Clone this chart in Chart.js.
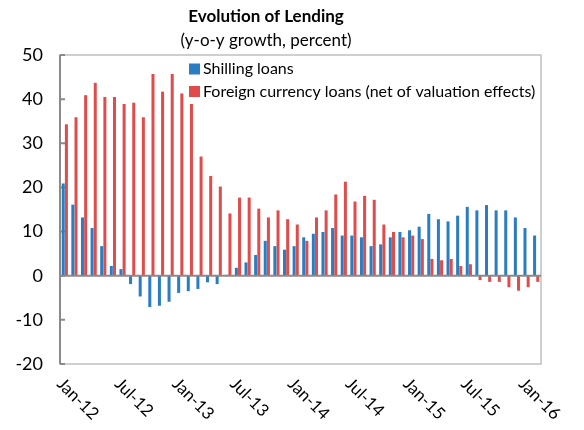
<!DOCTYPE html>
<html>
<head>
<meta charset="utf-8">
<script src="https://cdn.jsdelivr.net/npm/chart.js@4.4.0/dist/chart.umd.min.js"></script>
<style>
  html, body { margin: 0; padding: 0; background: #fff; }
  #wrap { width: 584px; height: 430px; position: relative; }
</style>
</head>
<body>
<div id="wrap"><canvas id="c" width="584" height="430"></canvas></div>
<script>
// monthly, Jan-12 .. Feb-16
const months = [
  'Jan-12','Feb-12','Mar-12','Apr-12','May-12','Jun-12','Jul-12','Aug-12','Sep-12','Oct-12','Nov-12','Dec-12',
  'Jan-13','Feb-13','Mar-13','Apr-13','May-13','Jun-13','Jul-13','Aug-13','Sep-13','Oct-13','Nov-13','Dec-13',
  'Jan-14','Feb-14','Mar-14','Apr-14','May-14','Jun-14','Jul-14','Aug-14','Sep-14','Oct-14','Nov-14','Dec-14',
  'Jan-15','Feb-15','Mar-15','Apr-15','May-15','Jun-15','Jul-15','Aug-15','Sep-15','Oct-15','Nov-15','Dec-15',
  'Jan-16','Feb-16'
];
const shilling = [
  20.9, 16.1, 13.2, 10.8, 6.7, 2.2, 1.5, -1.9, -4.7, -7.1, -6.8, -5.9,
  -3.9, -3.5, -3.0, -1.5, -1.9, 0.2, 1.8, 3.0, 4.7, 7.9, 6.7, 5.9,
  6.7, 8.7, 9.5, 9.9, 10.8, 9.1, 9.1, 8.7, 6.7, 7.1, 8.7, 9.9,
  10.3, 11.1, 14.0, 12.8, 12.3, 13.6, 15.6, 14.8, 16.0, 14.8, 14.8, 13.2,
  10.8, 9.1
];
const foreign = [
  34.3, 35.9, 40.9, 43.7, 40.5, 40.5, 38.9, 39.2, 35.9, 45.7, 41.7, 45.7,
  41.3, 38.9, 27.0, 22.6, 20.2, 14.1, 17.7, 17.7, 15.2, 13.2, 14.8, 12.8,
  11.6, 7.9, 13.2, 14.8, 18.4, 21.3, 16.8, 18.1, 17.2, 11.6, 9.9, 8.7,
  9.1, 8.3, 3.8, 3.5, 3.8, 2.2, 2.6, -1.0, -1.4, -1.4, -2.6, -3.4,
  -2.6, -1.4
];
const seriesNames = ['Shilling loans', 'Foreign currency loans (net of valuation effects)'];
const xTickEvery = 6;
const titleText = 'Evolution of Lending';
const subtitleText = '(y-o-y growth, percent)';

const BLUE = '#2a7dc1';
const RED = '#e04c4c';
const FONT = 'Lato, "Liberation Sans", sans-serif';

// frame, inner ticks, zero line, x labels, legend, titles
const decor = {
  id: 'decor',
  beforeDatasetsDraw(chart) {
    const { ctx, chartArea: a, scales: { y } } = chart;
    ctx.save();
    ctx.strokeStyle = '#c0c0c0';
    ctx.lineWidth = 1.5;
    ctx.strokeRect(a.left, a.top, a.right - a.left, a.bottom - a.top);
    ctx.strokeStyle = '#8a8a8a';
    ctx.lineWidth = 2;
    ctx.beginPath();
    ctx.moveTo(a.left, a.top); ctx.lineTo(a.left, a.bottom);
    y.ticks.forEach(t => {
      const py = y.getPixelForValue(t.value);
      ctx.moveTo(a.left, py); ctx.lineTo(a.left + 5, py);
    });
    ctx.stroke();
    ctx.restore();
  },
  afterDatasetsDraw(chart) {
    const { ctx, chartArea: a, scales: { x, y } } = chart;
    ctx.save();
    const y0 = y.getPixelForValue(0);
    ctx.strokeStyle = '#8a8a8a';
    ctx.lineWidth = 2;
    ctx.beginPath(); ctx.moveTo(a.left, y0); ctx.lineTo(a.right, y0); ctx.stroke();

    // rotated month labels
    ctx.fillStyle = '#000';
    ctx.font = '17px ' + FONT;
    ctx.textAlign = 'left';
    ctx.textBaseline = 'top';
    for (let i = 0; i < months.length; i += xTickEvery) {
      const px = x.getPixelForValue(i);
      ctx.save();
      ctx.translate(px + 1, a.bottom + 11);
      ctx.rotate(Math.PI / 4);
      ctx.fillText(months[i], 0, 0);
      ctx.restore();
    }

    // legend inside plot
    ctx.font = '16px ' + FONT;
    ctx.textBaseline = 'middle';
    [[BLUE, seriesNames[0], 69], [RED, seriesNames[1], 91.5]].forEach(([c, t, cy]) => {
      ctx.fillStyle = c;
      ctx.fillRect(189, cy - 5.5, 11, 11);
      ctx.fillStyle = '#000';
      ctx.fillText(t, 203, cy);
    });

    // titles
    ctx.textAlign = 'center';
    ctx.font = 'bold 17px ' + FONT;
    ctx.fillText(titleText, 266, 17);
    ctx.font = '17px ' + FONT;
    ctx.fillText(subtitleText, 266, 41);
    ctx.restore();
  }
};

new Chart(document.getElementById('c'), {
  type: 'bar',
  data: {
    labels: months,
    datasets: [
      { label: seriesNames[0], data: shilling, backgroundColor: BLUE },
      { label: seriesNames[1], data: foreign, backgroundColor: RED },
    ]
  },
  options: {
    responsive: false,
    animation: false,
    devicePixelRatio: 1,
    datasets: { bar: { categoryPercentage: 0.66, barPercentage: 0.95 } },
    layout: { padding: { left: 10, right: 43, top: 55, bottom: 66 } },
    plugins: { legend: { display: false }, title: { display: false }, tooltip: { enabled: false } },
    scales: {
      x: { display: false },
      y: {
        min: -20, max: 50,
        ticks: { stepSize: 10, color: '#000', padding: 17, font: { family: FONT, size: 18 } },
        grid: { display: false, drawTicks: false },
        border: { display: false },
        afterFit(scale) { scale.width = 50; },
      }
    }
  },
  plugins: [decor]
});
</script>
</body>
</html>
